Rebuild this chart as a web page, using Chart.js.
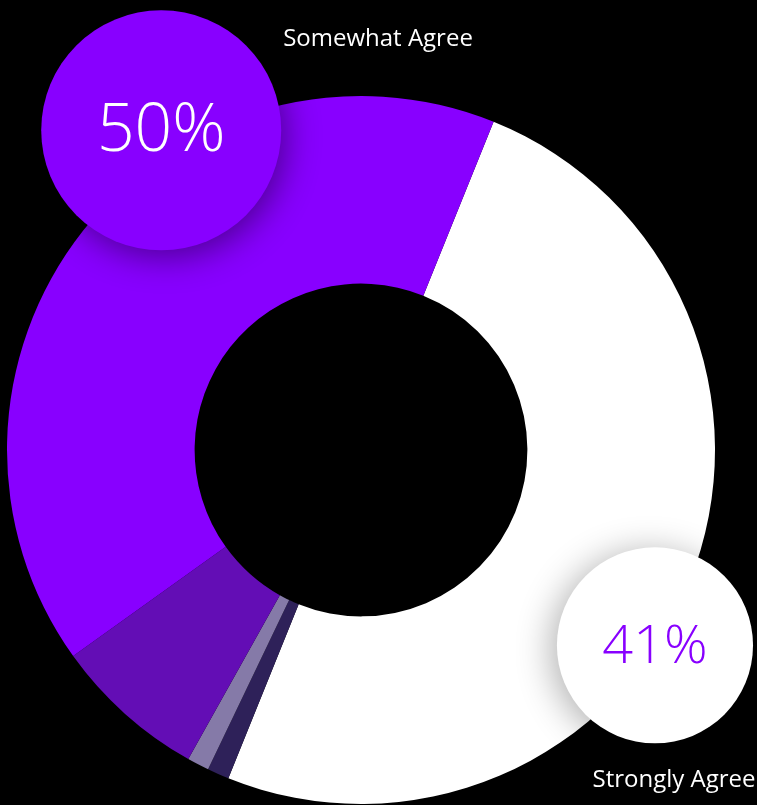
<!DOCTYPE html>
<html lang="en">
<head>
    <meta charset="UTF-8">
    <title>Survey Doughnut</title>
    <script src="https://cdn.jsdelivr.net/npm/chart.js"></script>
    <style>
        body {
            margin: 0;
            background-color: #000;
            font-family: "Open Sans", sans-serif;
        }
        .wrap {
            width: 757px;
            height: 805px;
        }
    </style>
</head>
<body>
    <div class="wrap">
        <canvas id="surveyChart" width="757" height="805"></canvas>
    </div>

    <script>
        // survey answers, in drawing order (clockwise from the white slice)
        const categories = ['Somewhat Agree', 'Strongly Disagree', 'Somewhat Disagree', 'Neutral', 'Strongly Agree'];
        const shares = [50, 1, 1, 7, 41];
        const sliceColors = ['#ffffff', '#2e2159', '#857aa8', '#630db5', '#8800ff'];

        // the two callout bubbles
        const calloutTexts = ['50%', '41%'];
        const calloutLabels = ['Somewhat Agree', 'Strongly Agree'];

        // bubble placement: angle (deg, clockwise from top), distance and size as share of outer radius
        const bubbleStyles = [
            { angle: 328, dist: 1.065, size: 0.339, fill: '#8800ff', text: '#ffffff', font: 66,
              shadow: 'rgba(0,0,0,0.45)', sx: 4, sy: 6, labelDx: 17, labelDy: -411 },
            { angle: 123.6, dist: 0.997, size: 0.277, fill: '#ffffff', text: '#8800ff', font: 54,
              shadow: 'rgba(0,0,0,0.30)', sx: -6, sy: 4, labelDx: 313, labelDy: 330 }
        ];

        const calloutPlugin = {
            id: 'callouts',
            beforeDraw(chart) {
                const ctx = chart.ctx;
                ctx.save();
                ctx.fillStyle = '#000';
                ctx.fillRect(0, 0, chart.width, chart.height);
                ctx.restore();
            },
            afterDraw(chart) {
                const arc = chart.getDatasetMeta(0).data[0];
                const cx = arc.x, cy = arc.y, R = arc.outerRadius;
                const ctx = chart.ctx;

                bubbleStyles.forEach((b, i) => {
                    const a = b.angle * Math.PI / 180;
                    const bx = cx + Math.sin(a) * R * b.dist;
                    const by = cy - Math.cos(a) * R * b.dist;
                    const br = R * b.size;

                    ctx.save();
                    ctx.shadowColor = b.shadow;
                    ctx.shadowBlur = 35;
                    ctx.shadowOffsetX = b.sx;
                    ctx.shadowOffsetY = b.sy;
                    ctx.beginPath();
                    ctx.arc(bx, by, br, 0, Math.PI * 2);
                    ctx.fillStyle = b.fill;
                    ctx.fill();
                    ctx.restore();

                    ctx.save();
                    ctx.fillStyle = b.text;
                    ctx.font = '300 ' + b.font + 'px "Open Sans", sans-serif';
                    ctx.textAlign = 'center';
                    ctx.textBaseline = 'middle';
                    ctx.fillText(calloutTexts[i], bx, by + 2);
                    ctx.restore();

                    ctx.save();
                    ctx.fillStyle = '#ffffff';
                    ctx.font = '24px "Open Sans", sans-serif';
                    ctx.textAlign = 'center';
                    ctx.textBaseline = 'middle';
                    ctx.fillText(calloutLabels[i], cx + b.labelDx, cy + b.labelDy);
                    ctx.restore();
                });
            }
        };

        new Chart(document.getElementById('surveyChart'), {
            type: 'doughnut',
            data: {
                labels: categories,
                datasets: [{
                    data: shares,
                    backgroundColor: sliceColors,
                    borderWidth: 0
                }]
            },
            options: {
                responsive: false,
                animation: false,
                rotation: 22,
                cutout: '47%',
                layout: {
                    padding: { left: 7, right: 42, top: 96, bottom: 1 }
                },
                plugins: {
                    legend: { display: false },
                    tooltip: { enabled: false }
                }
            },
            plugins: [calloutPlugin]
        });
    </script>
</body>
</html>
